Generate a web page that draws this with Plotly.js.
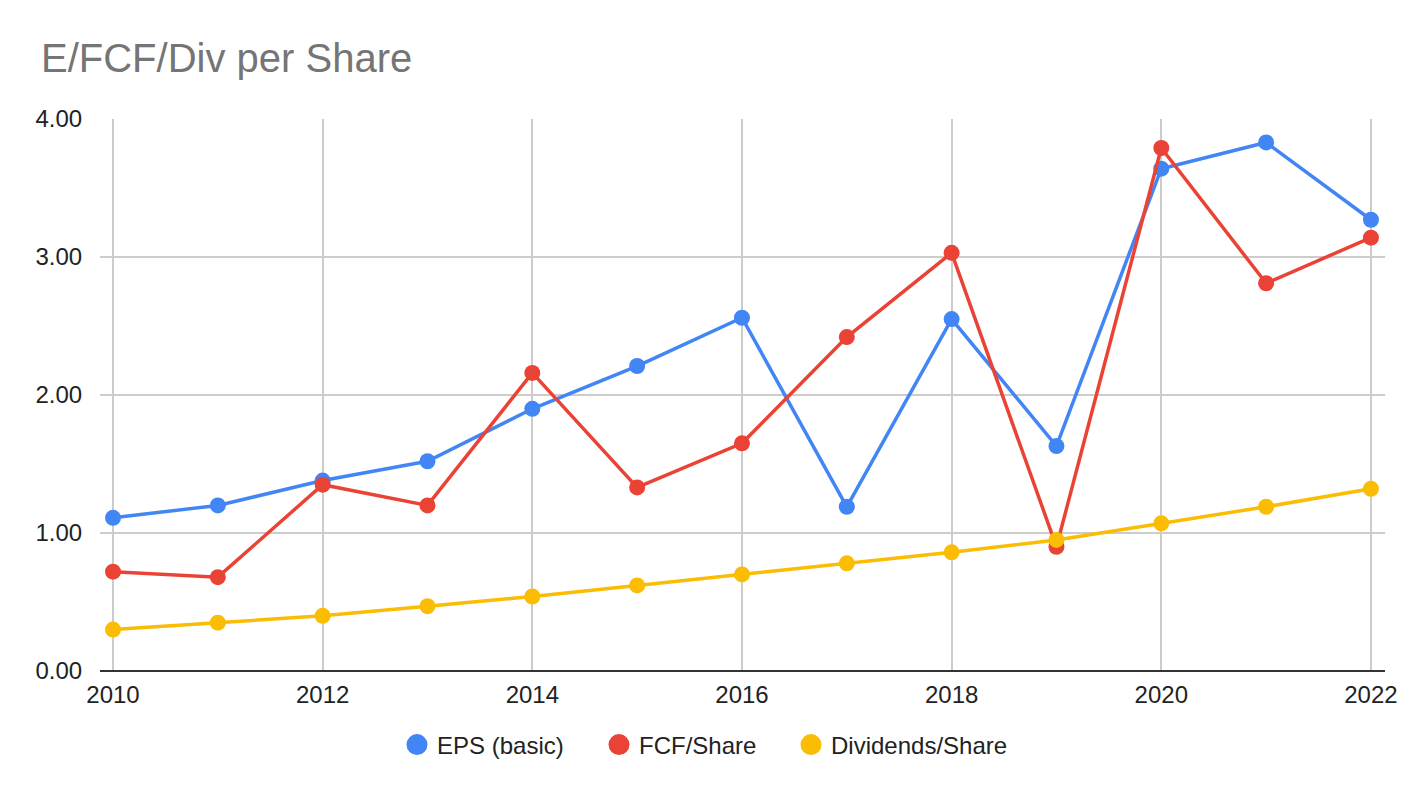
<!DOCTYPE html>
<html>
<head>
<meta charset="utf-8">
<script src="https://cdn.plot.ly/plotly-3.0.1.min.js"></script>
<style>
  html, body { margin: 0; padding: 0; background: #fff; }
  #chart { width: 1424px; height: 798px; }
</style>
</head>
<body>
<div id="chart"></div>
<script>
const years = [2010, 2011, 2012, 2013, 2014, 2015, 2016, 2017, 2018, 2019, 2020, 2021, 2022];
const eps = [1.11, 1.20, 1.38, 1.52, 1.90, 2.21, 2.56, 1.19, 2.55, 1.63, 3.64, 3.83, 3.27];
const fcf = [0.72, 0.68, 1.35, 1.20, 2.16, 1.33, 1.65, 2.42, 3.03, 0.90, 3.79, 2.81, 3.14];
const divs = [0.30, 0.35, 0.40, 0.47, 0.54, 0.62, 0.70, 0.78, 0.86, 0.95, 1.07, 1.19, 1.32];
const names = ['EPS (basic)', 'FCF/Share', 'Dividends/Share'];
const colors = ['#4285F4', '#EA4335', '#FBBC04'];
const xTicks = [2010, 2012, 2014, 2016, 2018, 2020, 2022];
const yTicks = [0, 1, 2, 3, 4];
const yLabels = ["0.00", "1.00", "2.00", "3.00", "4.00"];

const fontFam = '"Liberation Sans", Arial, sans-serif';
const legendIds = ['legend', 'legend2', 'legend3'];
const legendLeft = [397, 599, 791];  // px where each legend entry starts

var data = [];
[eps, fcf, divs].forEach((vals, i) => {
    data.push({
        x: years,
        y: vals,
        name: names[i],
        type: 'scatter',
        mode: 'lines+markers',
        line: { color: colors[i], width: 3.5 },
        marker: { color: colors[i], size: 16 },
        showlegend: false
    });
});
// legend shows dots only, like the sheets chart
names.forEach((n, i) => {
    data.push({
        x: [null],
        y: [null],
        name: n,
        type: 'scatter',
        mode: 'markers',
        marker: { color: colors[i], size: 18, line: { color: colors[i], width: 5 } },
        showlegend: true,
        legend: legendIds[i]
    });
});

var layout = {
    width: 1424,
    height: 798,
    paper_bgcolor: '#fff',
    plot_bgcolor: '#fff',
    font: { family: fontFam, size: 24, color: '#222' },
    title: {
        text: 'E/FCF/Div per Share',
        font: { family: fontFam, size: 40, color: '#757575' },
        x: 41 / 1424,
        xanchor: 'left',
        y: 1 - 58 / 798,
        yanchor: 'middle'
    },
    margin: { l: 100, r: 39, t: 119, b: 127 },
    xaxis: {
        range: [2009.876, 2022.134],
        tickvals: xTicks,
        ticktext: xTicks.map(String),
        showgrid: true,
        gridcolor: '#cccccc',
        gridwidth: 1.5,
        zeroline: false,
        showline: false,
        ticks: 'outside',
        ticklen: 2,
        tickcolor: 'rgba(0,0,0,0)',
        tickfont: { size: 24, color: '#222' }
    },
    yaxis: {
        range: [0, 4],
        tickvals: yTicks,
        ticktext: yLabels,
        showgrid: true,
        gridcolor: '#cccccc',
        gridwidth: 1.5,
        zeroline: true,
        zerolinecolor: '#333',
        zerolinewidth: 2,
        ticks: 'outside',
        ticklen: 12,
        tickcolor: 'rgba(0,0,0,0)',
        tickfont: { size: 24, color: '#222' }
    },
    showlegend: true
};

legendIds.forEach((id, i) => {
    layout[id] = {
        orientation: 'h',
        x: (legendLeft[i] - 100) / 1285,
        xanchor: 'left',
        y: -0.134,
        yanchor: 'middle',
        font: { family: fontFam, size: 24, color: '#222' }
    };
});

Plotly.newPlot('chart', data, layout, { displayModeBar: false });
</script>
</body>
</html>
